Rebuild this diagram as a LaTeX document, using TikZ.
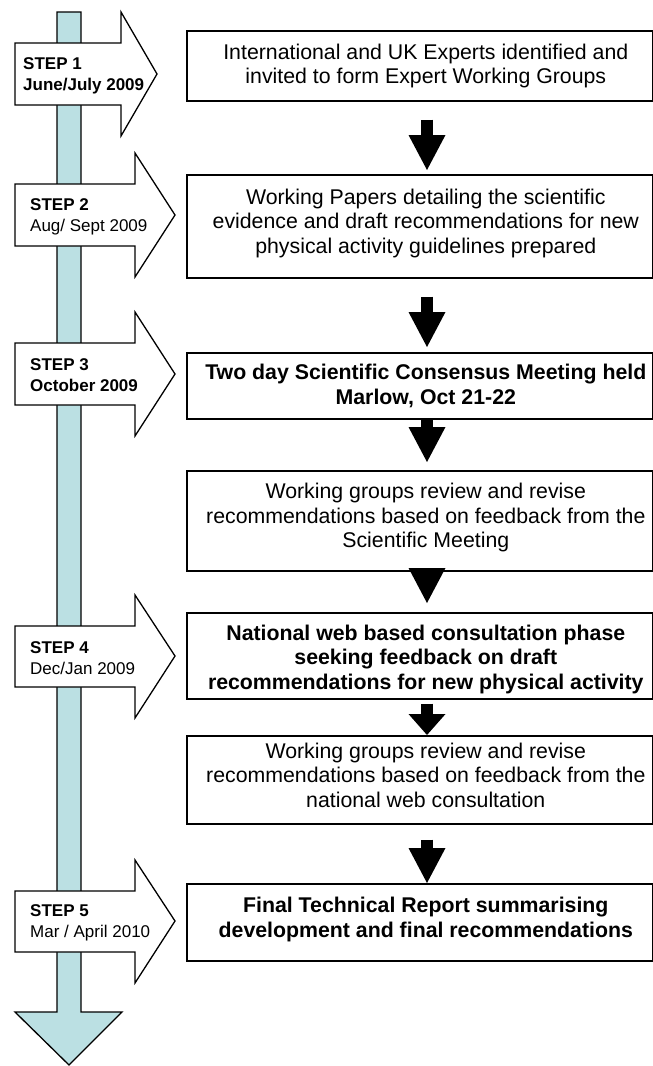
\documentclass[tikz,border=0pt]{standalone}
\usepackage{fontspec}
\setmainfont{Liberation Sans}
\usetikzlibrary{arrows.meta}
\definecolor{barblue}{RGB}{187,224,227}
\begin{document}
\begin{tikzpicture}[x=1pt,y=-1pt,
  box/.style={draw, line width=1.6pt, fill=white, rectangle, minimum width=466pt, inner sep=0pt, anchor=north west},
  boxtext/.style={align=center, inner sep=0pt, font=\fontsize{21.3}{24.5}\selectfont},
  boxbold/.style={align=center, inner sep=0pt, font=\fontsize{21.3}{24.5}\selectfont\bfseries},
  steparrow/.style={draw, line width=1.3pt, fill=white, line join=miter},
  steplabel/.style={align=left, anchor=west, inner sep=0pt, font=\fontsize{17}{20.5}\selectfont},
  conn/.style={line width=12pt, -{Triangle[width=37pt,length=35pt,line width=0pt]}},
  connshort/.style={line width=12pt, -{Triangle[width=37pt,length=21pt,line width=0pt]}}
]
\useasboundingbox (0,0) rectangle (653,1066);

% timeline bar with arrow head
\draw[line width=1.3pt, fill=barblue, line join=miter]
  (57,12) -- (81,12) -- (81,1012) -- (122,1012) -- (69,1065) -- (15,1012) -- (57,1012) -- cycle;

% step arrows
\draw[steparrow] (15,43) -- (121,43) -- (121,12) -- (157,74) -- (121,136) -- (121,105) -- (15,105) -- cycle;
\draw[steparrow] (15,184) -- (135,184) -- (135,153) -- (175,215) -- (135,277) -- (135,246) -- (15,246) -- cycle;
\draw[steparrow] (15,343) -- (135,343) -- (135,312) -- (175,374) -- (135,436) -- (135,405) -- (15,405) -- cycle;
\draw[steparrow] (15,626) -- (135,626) -- (135,595) -- (175,656) -- (135,718) -- (135,687) -- (15,687) -- cycle;
\draw[steparrow] (15,891) -- (135,891) -- (135,860) -- (175,921) -- (135,983) -- (135,952) -- (15,952) -- cycle;

\node[steplabel] (s1) at (23,76) {\textbf{STEP 1}\\\textbf{June/July 2009}};
\node[steplabel] (s2) at (30,217) {\textbf{STEP 2}\\Aug/ Sept 2009};
\node[steplabel] (s3) at (30,375) {\textbf{STEP 3}\\\textbf{October 2009}};
\node[steplabel] (s4) at (30,658) {\textbf{STEP 4}\\Dec/Jan 2009};
\node[steplabel] (s5) at (30,923) {\textbf{STEP 5}\\Mar / April 2010};

% boxes
\node[box, minimum height=70pt] (b1) at (186,30) {};
\node[box, minimum height=103pt] (b2) at (186,174) {};
\node[box, minimum height=66pt] (b3) at (186,352) {};
\node[box, minimum height=100pt] (b4) at (186,470) {};
\node[box, minimum height=86pt] (b5) at (186,612) {};
\node[box, minimum height=88pt] (b6) at (186,735) {};
\node[box, minimum height=77pt] (b7) at (186,883) {};

\node[boxtext] (t1) at ([xshift=6pt]b1.center) {International and UK Experts identified and\\invited to form Expert Working Groups};
\node[boxtext] (t2) at ([xshift=6pt,yshift=3pt]b2.center) {Working Papers detailing the scientific\\evidence and draft recommendations for new\\physical activity guidelines prepared};
\node[boxbold] (t3) at ([xshift=6pt]b3.center) {Two day Scientific Consensus Meeting held\\Marlow, Oct 21-22};
\node[boxtext] (t4) at ([xshift=6pt,yshift=3pt]b4.center) {Working groups review and revise\\recommendations based on feedback from the\\Scientific Meeting};
\node[boxbold] (t5) at ([xshift=6pt,yshift=-3.5pt]b5.center) {National web based consultation phase\\seeking feedback on draft\\recommendations for new physical activity};
\node[boxtext] (t6) at ([xshift=6pt,yshift=4.5pt]b6.center) {Working groups review and revise\\recommendations based on feedback from the\\national web consultation};
\node[boxbold] (t7) at ([xshift=6pt,yshift=3pt]b7.center) {Final Technical Report summarising\\development and final recommendations};

% connectors
\coordinate (ax) at (427,0);
\draw[conn, shorten <=18pt, shorten >=4pt] (b1.south -| ax) -- (b2.north -| ax);
\draw[conn, shorten <=18pt, shorten >=5pt] (b2.south -| ax) -- (b3.north -| ax);
\draw[conn, shorten >=8pt] (b3.south -| ax) -- (b4.north -| ax);
\draw[conn, shorten <=-10pt, shorten >=9pt] (b4.south -| ax) -- (b5.north -| ax);
\draw[connshort, shorten <=4pt] (b5.south -| ax) -- (b6.north -| ax);
\draw[conn, shorten <=15pt, shorten >=0pt] (b6.south -| ax) -- (b7.north -| ax);
\end{tikzpicture}
\end{document}
